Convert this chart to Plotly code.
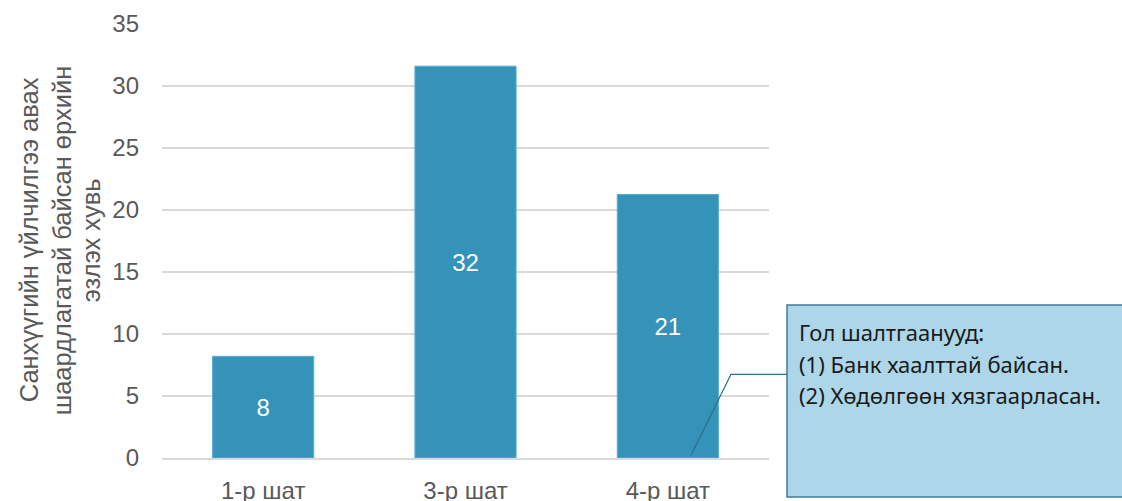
import plotly.graph_objects as go

# chart data
categories = ["1-р шат", "3-р шат", "4-р шат"]
values = [8.2, 31.6, 21.25]
bar_labels = ["8", "32", "21"]
y_ticks = [0, 5, 10, 15, 20, 25, 30, 35]
y_title_lines = ["Санхүүгийн үйлчилгээ авах", "шаардлагатай байсан өрхийн", "эзлэх хувь"]
note_lines = ["Гол шалтгаанууд:", "(1) Банк хаалттай байсан.", "(2) Хөдөлгөөн хязгаарласан."]

W, H = 1122, 501
L, R, T, B = 162, 769, 23.7, 457.7


def px(x):
    return (x - L) / (R - L)


def py(y):
    return (B - y) / (B - T)


fig = go.Figure()

fig.add_trace(go.Bar(
    x=categories,
    y=values,
    text=bar_labels,
    textposition="inside",
    insidetextanchor="middle",
    textfont=dict(color="white", size=24, family="Liberation Sans"),
    marker=dict(color="#3593BA", line=dict(color="#5AAED0", width=1)),
    width=0.5,
    hoverinfo="skip",
))

# callout box + pointer
shapes = [
    dict(type="rect", xref="paper", yref="paper",
         x0=px(787), x1=px(1130), y0=py(496.7), y1=py(304.7),
         fillcolor="#ADD6E8", line=dict(color="#41799C", width=1.5), layer="above"),
    dict(type="path", xref="paper", yref="paper",
         path=f"M {px(787)} {py(374)} L {px(731)} {py(374)} L {px(691)} {py(455)}",
         line=dict(color="#2E6F8E", width=1.3), layer="above"),
]

annotations = []
for i, line in enumerate(note_lines):
    annotations.append(dict(
        xref="paper", yref="paper", x=px(797), y=py(332 + i * 31.5),
        xanchor="left", yanchor="middle", showarrow=False, text=line,
        font=dict(family="Noto Sans", size=22, color="#1a1a1a"),
    ))

# y axis title, one annotation per line
for xpos, line in zip([29, 62, 91], y_title_lines):
    annotations.append(dict(
        xref="paper", yref="paper", x=px(xpos), y=py(240),
        xanchor="center", yanchor="middle", showarrow=False, text=line,
        textangle=-90, font=dict(family="Liberation Sans", size=25.5, color="#595959"),
    ))

fig.update_layout(
    width=W, height=H,
    margin=dict(l=L, r=W - R, t=T, b=H - B),
    plot_bgcolor="white", paper_bgcolor="white",
    showlegend=False,
    font=dict(family="Liberation Sans", color="#595959"),
    xaxis=dict(tickfont=dict(size=24, color="#595959"), showline=True,
               linecolor="#D9D9D9", linewidth=1.5, ticks="", range=[-0.5, 2.5],
               ticklabelstandoff=10, automargin=False),
    yaxis=dict(range=[0, 35], tickvals=y_ticks, tickfont=dict(size=24, color="#595959"),
               gridcolor="#D9D9D9", gridwidth=1.5, zeroline=False, ticks="",
               ticklabelstandoff=22, automargin=False),
    shapes=shapes,
    annotations=annotations,
)

fig.write_html("out.html", config={"displayModeBar": False},
               post_script="document.body.style.margin='0';")
